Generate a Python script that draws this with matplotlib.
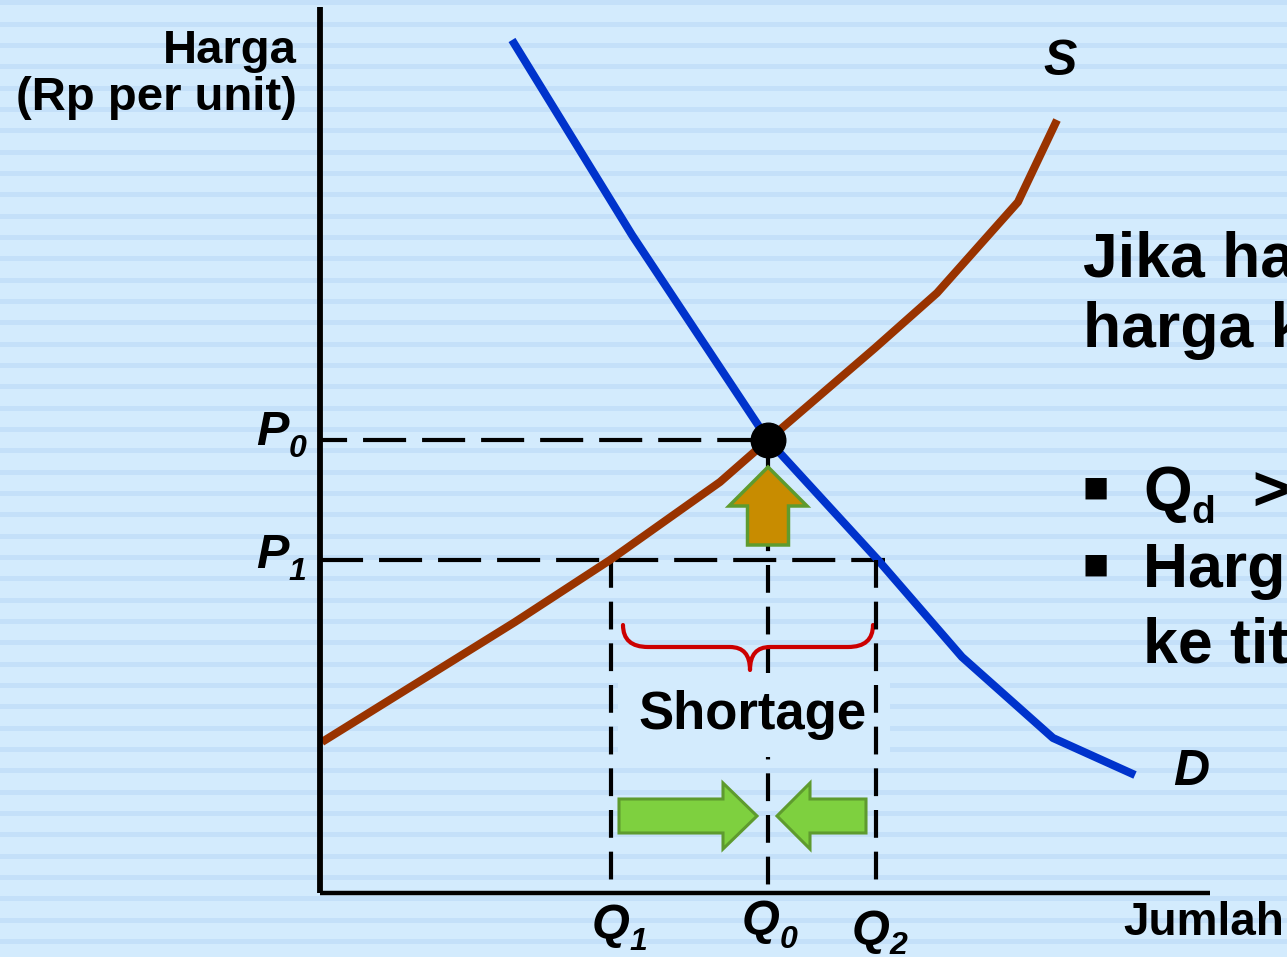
import matplotlib
matplotlib.use('Agg')
import matplotlib.pyplot as plt
from matplotlib.patches import Polygon, Rectangle, PathPatch
from matplotlib.path import Path

plt.rcParams['font.family'] = ['Liberation Sans', 'DejaVu Sans']
plt.rcParams['lines.scale_dashes'] = False

# ---------------- data (chart units: quantity, price) ----------------
demand_q = [19.2, 31.2, 44.8, 55.8, 64.2, 73.3, 81.5]
demand_p = [85.3, 65.8, 45.3, 33.3, 23.6, 15.5, 11.8]
supply_q = [0.2, 19.5, 29.0, 40.0, 44.8, 55.5, 61.7, 69.8, 73.7]
supply_p = [15.1, 27.1, 33.3, 41.1, 45.3, 54.5, 60.0, 69.1, 77.3]
Q0, P0 = 44.8, 45.3
P1 = 33.3
Q1, Q2 = 29.1, 55.6
axis_q_max, axis_p_max = 89.0, 88.6

W, H = 1287, 957
BASE = '#D3EBFD'
STRIPE = '#C4E0F9'
BLUE = '#0033CC'
BROWN = '#993300'
GREEN = '#7ED03F'
GREEN_EDGE = '#5E9B2E'
ORANGE = '#C88C00'
RED = '#CC0000'

fig = plt.figure(figsize=(W / 100, H / 100), dpi=100)
fig.patch.set_facecolor(BASE)

# background stripes (pixel coordinates)
bg = fig.add_axes([0, 0, 1, 1], zorder=0)
bg.set_xlim(0, W)
bg.set_ylim(H, 0)
bg.axis('off')
y = 0.4
while y < H:
    bg.axhspan(y, y + 5, color=STRIPE, lw=0)
    y += 21.33

# main chart axes
ax = fig.add_axes([0, 0, 1, 1], zorder=1)
ax.set_xlim(-32.0, (W - 320) / 10)
ax.set_ylim(-(H - 893) / 10, 89.3)
ax.axis('off')
ax.patch.set_alpha(0)

# axes lines
ax.plot([0, 0], [0, axis_p_max], color='black', lw=4.2, solid_capstyle='butt', zorder=5)
ax.plot([0, axis_q_max], [0, 0], color='black', lw=3.2, solid_capstyle='butt', zorder=5)

# dashed guide lines
vdash = (0, (20, 10))
ax.plot([0, Q0], [P0, P0], color='black', lw=3, linestyle=(11.5, (31, 11.5)), zorder=2)
ax.plot([0, Q2 + 0.9], [P1, P1], color='black', lw=3, linestyle=(0, (31, 11.5)), zorder=2)
ax.plot([Q0, Q0], [P0, 0], color='black', lw=3, linestyle=vdash, zorder=2)
ax.plot([Q1, Q1], [P1, 0], color='black', lw=3, linestyle=vdash, zorder=2)
ax.plot([Q2, Q2], [P1, 0], color='black', lw=3, linestyle=vdash, zorder=7)

# curves
ax.plot(supply_q, supply_p, color=BROWN, lw=5.8, solid_capstyle='butt', zorder=3)
ax.plot(demand_q, demand_p, color=BLUE, lw=5.8, solid_capstyle='butt', zorder=3)

# equilibrium point
ax.scatter([Q0], [P0], s=620, color='black', zorder=8)

# up arrow (price rises toward P0)
tip = P0 - 2.7
hb = tip - 3.9
bot = hb - 3.9
up = [(Q0, tip), (Q0 + 3.9, hb), (Q0 + 2.05, hb), (Q0 + 2.05, bot),
      (Q0 - 2.05, bot), (Q0 - 2.05, hb), (Q0 - 3.9, hb)]
ax.add_patch(Polygon(up, closed=True, facecolor=ORANGE, edgecolor=GREEN_EDGE, lw=2.5, zorder=6))

# green horizontal arrows
yc = 7.7
ra = [(29.9, yc - 1.7), (40.3, yc - 1.7), (40.3, yc - 3.3), (43.7, yc),
      (40.3, yc + 3.3), (40.3, yc + 1.7), (29.9, yc + 1.7)]
la = [(54.6, yc - 1.7), (49.0, yc - 1.7), (49.0, yc - 3.3), (45.7, yc),
      (49.0, yc + 3.3), (49.0, yc + 1.7), (54.6, yc + 1.7)]
for pts in (ra, la):
    ax.add_patch(Polygon(pts, closed=True, facecolor=GREEN, edgecolor=GREEN_EDGE, lw=2.2, zorder=6))

# brace
bl, br, btop, bh, btip, bx = 30.3, 55.3, 26.8, 24.6, 22.3, 43.0
verts = [(bl, btop), (bl, bh), (bl + 2.5, bh),
         (bx - 2.0, bh),
         (bx, bh), (bx, btip),
         (bx, bh), (bx + 2.0, bh),
         (br - 2.5, bh),
         (br, bh), (br, btop)]
codes = [Path.MOVETO, Path.CURVE3, Path.CURVE3,
         Path.LINETO,
         Path.CURVE3, Path.CURVE3,
         Path.CURVE3, Path.CURVE3,
         Path.LINETO,
         Path.CURVE3, Path.CURVE3]
ax.add_patch(PathPatch(Path(verts, codes), facecolor='none', edgecolor=RED, lw=3, zorder=4,
                       capstyle='round', joinstyle='round'))

# shortage box
ax.add_patch(Rectangle((29.8, 13.6), 27.2, 8.4, facecolor=BASE, edgecolor='none', zorder=4.5))
ax.text(43.3, 13.6 + 8.4 / 2, 'Shortage', fontsize=38, fontweight='bold', ha='center',
        va='center', zorder=5)

# ---------------- text overlay (pixel coordinates) ----------------
tx = fig.add_axes([0, 0, 1, 1], zorder=2)
tx.set_xlim(0, W)
tx.set_ylim(H, 0)
tx.axis('off')
tx.patch.set_alpha(0)

tx.text(297, 63, 'Harga', fontsize=34, fontweight='bold', ha='right', va='baseline')
tx.text(297, 110, '(Rp per unit)', fontsize=34, fontweight='bold', ha='right', va='baseline')
tx.text(1123, 935, 'Jumlah', fontsize=33, fontweight='bold', ha='left', va='baseline')
tx.text(1043, 75, 'S', fontsize=36, fontweight='bold', fontstyle='italic', ha='left', va='baseline')
tx.text(1173, 785, 'D', fontsize=36, fontweight='bold', fontstyle='italic', ha='left', va='baseline')


def sub_label(x, yb, main, sub, size, subsize, dy, style='italic'):
    t = tx.text(x, yb, main, fontsize=size, fontweight='bold', fontstyle=style,
                ha='left', va='baseline')
    tx.annotate(sub, xy=(1, 0), xycoords=t, xytext=(0, dy), textcoords='offset pixels',
                fontsize=subsize, fontweight='bold', fontstyle=style, ha='left', va='baseline')
    return t


sub_label(256, 445, 'P', '0', 35, 23, -2)
sub_label(256, 568, 'P', '1', 35, 23, -2)
sub_label(592, 938, 'Q', '1', 35, 23, -2)
sub_label(742, 934, 'Q', '0', 35, 23, -4)
sub_label(852, 944, 'Q', '2', 35, 23, 0)

# right explanatory text (cut off by the figure edge, as in the original)
tx.text(1083, 277, 'Jika harga di bawah', fontsize=45, fontweight='bold', ha='left', va='baseline')
tx.text(1083, 347, 'harga keseimbangan,', fontsize=45, fontweight='bold', ha='left', va='baseline')
for yb in (488, 565):
    tx.text(1096, yb, '\u25A0', fontsize=20, family='DejaVu Sans', ha='center', va='center')
sub_label(1143, 510, 'Q', 'd', 45, 28, 0, style='normal')
tx.text(1253, 510, '>  Qs', fontsize=45, fontweight='bold', ha='left', va='baseline')
tx.text(1143, 587, 'Harga naik', fontsize=45, fontweight='bold', ha='left', va='baseline')
tx.text(1143, 663, 'ke titik keseimbangan', fontsize=45, fontweight='bold', ha='left', va='baseline')

fig.savefig('out.png', dpi=100, facecolor=BASE)
